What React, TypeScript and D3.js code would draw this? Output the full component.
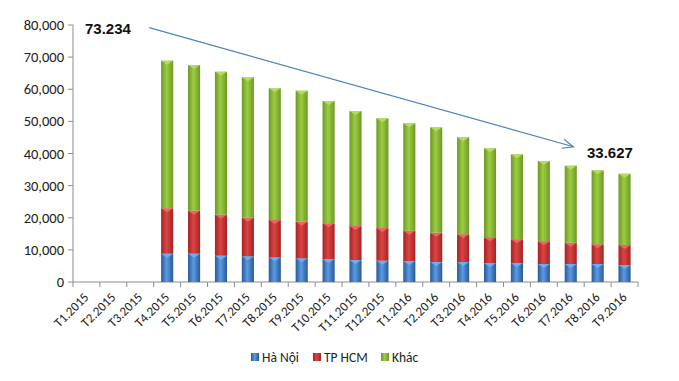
import React from "react";
import * as d3 from "d3";

const categories = [
  "T1.2015", "T2.2015", "T3.2015", "T4.2015", "T5.2015", "T6.2015", "T7.2015",
  "T8.2015", "T9.2015", "T10.2015", "T11.2015", "T12.2015", "T1.2016", "T2.2016",
  "T3.2016", "T4.2016", "T5.2016", "T6.2016", "T7.2016", "T8.2016", "T9.2016",
];
const haNoi = [0, 0, 0, 8810, 8810, 8190, 8000, 7690, 7380, 7160, 6850, 6640, 6540, 6230, 6230, 5910, 5910, 5600, 5600, 5600, 5290];
const tpHcm = [0, 0, 0, 14130, 13390, 12770, 12020, 11610, 11390, 11100, 10580, 10170, 9380, 9120, 8610, 8000, 7380, 7070, 6630, 6140, 6230];
const khac = [0, 0, 0, 45960, 45350, 44500, 43700, 41000, 40780, 38080, 35800, 34150, 33480, 32800, 30200, 27710, 26460, 25000, 23980, 23030, 22180];
const yTicks = [0, 10000, 20000, 30000, 40000, 50000, 60000, 70000, 80000];
const seriesNames = ["Hà Nội", "TP HCM", "Khác"];
const arrowStart = { idx: 2.33, value: 79200, label: "73.234" };
const arrowEnd = { idx: 18.1, value: 42100, label: "33.627" };

const colors = [
  { edge: "#27589c", mid: "#5b9be0", cap: "#7ab4f0" },
  { edge: "#a52323", mid: "#db4444", cap: "#f07070" },
  { edge: "#6c9a22", mid: "#9dcb45", cap: "#bde070" },
];

export default function App() {
  const W = 679, H = 381;
  const left = 73, right = 638, top = 25, bottom = 282;
  const x = d3.scaleBand().domain(categories).range([left, right]).paddingInner(0.55).paddingOuter(0.275);
  const y = d3.scaleLinear().domain([0, 80000]).range([bottom, top]);
  const step = x.step();
  const xIdx = (i: number) => left + step * (i + 0.5);

  const rows = categories.map((c, i) => ({ c, haNoi: haNoi[i], tpHcm: tpHcm[i], khac: khac[i] }));
  const stack = d3.stack<any>().keys(["haNoi", "tpHcm", "khac"])(rows);
  const font = "'Liberation Sans', Arial, sans-serif";
  const font2 = "Carlito, Lato, 'Open Sans', 'DejaVu Sans', sans-serif";

  const ax1 = xIdx(arrowStart.idx), ay1 = y(arrowStart.value);
  const ax2 = xIdx(arrowEnd.idx), ay2 = y(arrowEnd.value);
  const ang = Math.atan2(ay2 - ay1, ax2 - ax1);
  const hl = 12, ha = 0.4;
  const h1 = [ax2 - hl * Math.cos(ang - ha), ay2 - hl * Math.sin(ang - ha)];
  const h2 = [ax2 - hl * Math.cos(ang + ha), ay2 - hl * Math.sin(ang + ha)];

  const legendX = [251, 313, 381];

  return (
    <svg width={W} height={H} style={{ position: "absolute", left: 0, top: 0, background: "#fff" }}>
      <defs>
        {colors.map((c, k) => (
          <linearGradient key={k} id={`g${k}`} x1="0" x2="1" y1="0" y2="0">
            <stop offset="0" stopColor={c.edge} />
            <stop offset="0.45" stopColor={c.mid} />
            <stop offset="1" stopColor={c.edge} />
          </linearGradient>
        ))}
      </defs>
      {/* axes */}
      <line x1={left} x2={left} y1={top} y2={bottom} stroke="#8c8c8c" />
      <line x1={left} x2={right} y1={bottom} y2={bottom} stroke="#8c8c8c" />
      {yTicks.map((t) => (
        <g key={t}>
          <line x1={left - 5} x2={left} y1={y(t)} y2={y(t)} stroke="#8c8c8c" />
          <text x={left - 9} y={y(t)} dy="0.35em" textAnchor="end" fontFamily={font2} fontSize={14.5} fill="#222">
            {d3.format(",")(t)}
          </text>
        </g>
      ))}
      {d3.range(categories.length + 1).map((i) => (
        <line key={i} x1={left + step * i} x2={left + step * i} y1={bottom} y2={bottom + 5} stroke="#8c8c8c" />
      ))}
      {categories.map((c, i) => (
        <text key={c} transform={`translate(${xIdx(i) + 3},${bottom + 16}) rotate(-45)`} textAnchor="end" fontFamily={font2} fontSize={13} fill="#222">
          {c}
        </text>
      ))}
      {/* bars */}
      {stack.map((s, k) => (
        <g key={k}>
          {s.map((d, i) => {
            if (d[1] - d[0] <= 0) return null;
            const bx = x(categories[i])!;
            const bw = x.bandwidth();
            const y0 = y(d[0]), y1 = y(d[1]);
            return (
              <g key={i}>
                <rect x={bx} y={y1} width={bw} height={y0 - y1} fill={`url(#g${k})`} />
                <path d={`M${bx},${y1} L${bx + bw},${y1} L${bx + bw / 2},${y1 + 4} Z`} fill={colors[k].cap} opacity={0.8} />
              </g>
            );
          })}
        </g>
      ))}
      {/* arrow annotation */}
      <line x1={ax1} y1={ay1} x2={ax2} y2={ay2} stroke="#4f81bd" strokeWidth={1.2} />
      <polyline points={`${h1[0]},${h1[1]} ${ax2},${ay2} ${h2[0]},${h2[1]}`} fill="none" stroke="#4f81bd" strokeWidth={1.2} />
      <text x={85} y={ay1 + 6} fontFamily={font} fontWeight="bold" fontSize={15} fill="#111">{arrowStart.label}</text>
      <text x={587} y={ay2 + 11} fontFamily={font} fontWeight="bold" fontSize={15} fill="#111">{arrowEnd.label}</text>
      {/* legend */}
      {seriesNames.map((n, k) => (
        <g key={n}>
          <rect x={legendX[k]} y={353} width={8} height={8} fill={`url(#g${k})`} />
          <text x={legendX[k] + 11} y={361.5} fontFamily={font2} fontSize={13.5} fill="#222">{n}</text>
        </g>
      ))}
    </svg>
  );
}
